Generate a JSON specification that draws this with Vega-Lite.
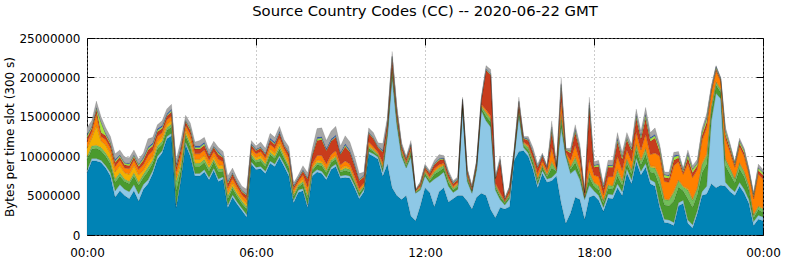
{
"$schema": "https://vega.github.io/schema/vega-lite/v6.json",
"width": 676, "height": 197,
"autosize": {"type": "none"},
"padding": {"left": 87, "top": 38, "right": 23, "bottom": 26},
"background": "white",
"config": {"view": {"stroke": "#000", "strokeWidth": 1}, "font": "DejaVu Sans"},
"title": {"text": "Source Country Codes (CC) -- 2020-06-22 GMT", "fontSize": 14.8, "fontWeight": "normal", "font": "DejaVu Sans", "color": "#000", "offset": 13},
"data": {"values": [
{"m":0,"A":7.9,"B":0.3,"C":1.3,"D":0.4,"E":1.1,"F":0.8,"G":0.5,"H":0.3,"I":0.2,"J":0.8},
{"m":10,"A":9.4,"B":0.3,"C":1.2,"D":0.4,"E":1.0,"F":0.7,"G":0.5,"H":0.2,"I":0.1,"J":0.7},
{"m":20,"A":9.4,"B":0.3,"C":1.3,"D":0.4,"E":2.5,"F":1.5,"G":0.5,"H":0.2,"I":0.1,"J":0.8},
{"m":30,"A":9.2,"B":0.3,"C":1.2,"D":0.4,"E":0.8,"F":0.6,"G":0.5,"H":1.3,"I":0.1,"J":0.6},
{"m":40,"A":8.5,"B":0.3,"C":1.2,"D":0.4,"E":1.0,"F":0.7,"G":0.5,"H":0.2,"I":0.1,"J":0.7},
{"m":50,"A":7.5,"B":0.4,"C":1.1,"D":0.4,"E":0.9,"F":0.7,"G":0.5,"H":0.2,"I":0.1,"J":0.7},
{"m":60,"A":4.8,"B":0.8,"C":1.1,"D":0.4,"E":0.9,"F":0.7,"G":0.5,"H":0.2,"I":0.2,"J":0.7},
{"m":70,"A":5.6,"B":0.8,"C":1.1,"D":0.4,"E":0.9,"F":0.7,"G":0.4,"H":0.2,"I":0.1,"J":0.6},
{"m":80,"A":5.0,"B":0.8,"C":1.0,"D":0.3,"E":0.8,"F":0.6,"G":0.4,"H":0.2,"I":0.1,"J":0.7},
{"m":90,"A":4.6,"B":0.9,"C":1.0,"D":0.3,"E":0.9,"F":0.7,"G":0.4,"H":0.2,"I":0.1,"J":0.7},
{"m":100,"A":5.6,"B":0.8,"C":1.1,"D":0.4,"E":0.9,"F":0.7,"G":0.4,"H":0.2,"I":0.1,"J":0.6},
{"m":110,"A":4.3,"B":0.9,"C":1.1,"D":0.4,"E":0.9,"F":0.7,"G":0.4,"H":0.2,"I":0.1,"J":0.6},
{"m":120,"A":5.8,"B":0.6,"C":0.9,"D":0.4,"E":0.5,"F":0.7,"G":0.6,"H":0.2,"I":0.2,"J":0.5},
{"m":130,"A":6.5,"B":0.5,"C":1.1,"D":0.5,"E":0.6,"F":0.9,"G":0.7,"H":0.2,"I":0.2,"J":1.0},
{"m":140,"A":7.8,"B":0.4,"C":0.9,"D":0.4,"E":0.5,"F":0.7,"G":0.6,"H":0.2,"I":0.2,"J":0.7},
{"m":150,"A":9.6,"B":0.4,"C":0.9,"D":0.4,"E":0.5,"F":0.7,"G":0.6,"H":0.2,"I":0.2,"J":0.5},
{"m":160,"A":10.4,"B":0.3,"C":0.8,"D":0.4,"E":0.5,"F":0.6,"G":0.5,"H":0.2,"I":0.2,"J":0.6},
{"m":170,"A":12.2,"B":0.3,"C":0.8,"D":0.3,"E":0.4,"F":0.6,"G":0.5,"H":0.1,"I":0.2,"J":0.6},
{"m":180,"A":12.6,"B":0.3,"C":0.8,"D":0.4,"E":0.4,"F":0.6,"G":0.5,"H":0.2,"I":0.2,"J":0.6},
{"m":190,"A":3.5,"B":0.3,"C":1.8,"D":1.2,"E":0.5,"F":0.8,"G":0.5,"H":0.2,"I":0.2,"J":0.6},
{"m":200,"A":7.0,"B":0.3,"C":1.0,"D":0.5,"E":0.6,"F":0.8,"G":0.7,"H":0.2,"I":0.2,"J":0.7},
{"m":210,"A":11.5,"B":0.3,"C":0.8,"D":0.3,"E":0.4,"F":0.6,"G":0.5,"H":0.1,"I":0.1,"J":0.6},
{"m":220,"A":10.0,"B":0.3,"C":0.9,"D":0.4,"E":0.5,"F":0.7,"G":0.5,"H":0.2,"I":0.1,"J":0.6},
{"m":230,"A":7.5,"B":0.3,"C":0.9,"D":0.4,"E":0.5,"F":0.7,"G":0.6,"H":0.2,"I":0.2,"J":0.5},
{"m":240,"A":7.5,"B":0.3,"C":0.9,"D":0.4,"E":0.5,"F":0.7,"G":0.6,"H":0.2,"I":0.2,"J":0.7},
{"m":250,"A":8.0,"B":0.3,"C":0.9,"D":0.4,"E":0.5,"F":0.7,"G":0.6,"H":0.2,"I":0.2,"J":0.6},
{"m":260,"A":7.0,"B":0.3,"C":0.8,"D":0.4,"E":0.4,"F":0.6,"G":0.5,"H":0.1,"I":0.1,"J":0.6},
{"m":270,"A":8.2,"B":0.3,"C":0.8,"D":0.3,"E":0.4,"F":0.6,"G":0.5,"H":0.1,"I":0.1,"J":0.6},
{"m":280,"A":6.8,"B":0.3,"C":0.9,"D":0.4,"E":0.5,"F":0.7,"G":0.6,"H":0.2,"I":0.2,"J":0.5},
{"m":290,"A":7.1,"B":0.3,"C":0.7,"D":0.3,"E":0.4,"F":0.5,"G":0.5,"H":0.1,"I":0.1,"J":0.6},
{"m":300,"A":3.5,"B":0.3,"C":0.8,"D":0.4,"E":0.4,"F":0.6,"G":0.5,"H":0.2,"I":0.2,"J":0.6},
{"m":310,"A":4.8,"B":0.3,"C":0.8,"D":0.3,"E":0.4,"F":0.6,"G":0.5,"H":0.1,"I":0.1,"J":0.6},
{"m":320,"A":3.9,"B":0.3,"C":0.7,"D":0.3,"E":0.4,"F":0.5,"G":0.4,"H":0.1,"I":0.1,"J":0.5},
{"m":330,"A":3.1,"B":0.3,"C":0.6,"D":0.3,"E":0.3,"F":0.5,"G":0.4,"H":0.1,"I":0.1,"J":0.5},
{"m":340,"A":2.3,"B":0.3,"C":0.7,"D":0.3,"E":0.4,"F":0.5,"G":0.5,"H":0.1,"I":0.1,"J":0.6},
{"m":350,"A":9.0,"B":0.3,"C":0.6,"D":0.3,"E":0.3,"F":0.5,"G":0.4,"H":0.1,"I":0.1,"J":0.4},
{"m":360,"A":8.3,"B":0.3,"C":0.6,"D":0.3,"E":0.3,"F":0.5,"G":0.4,"H":0.1,"I":0.1,"J":0.4},
{"m":370,"A":8.4,"B":0.3,"C":0.7,"D":0.3,"E":0.4,"F":0.5,"G":0.4,"H":0.1,"I":0.1,"J":0.6},
{"m":380,"A":7.8,"B":0.3,"C":0.6,"D":0.3,"E":0.3,"F":0.5,"G":0.4,"H":0.1,"I":0.1,"J":0.6},
{"m":390,"A":9.1,"B":0.3,"C":0.8,"D":0.3,"E":0.4,"F":0.6,"G":0.5,"H":0.1,"I":0.2,"J":0.6},
{"m":400,"A":8.7,"B":0.3,"C":0.7,"D":0.3,"E":0.4,"F":0.6,"G":0.5,"H":0.1,"I":0.2,"J":0.6},
{"m":410,"A":9.8,"B":0.3,"C":0.8,"D":0.4,"E":0.4,"F":0.6,"G":0.6,"H":0.1,"I":0.2,"J":0.6},
{"m":420,"A":8.7,"B":0.3,"C":0.7,"D":0.3,"E":0.4,"F":0.5,"G":0.4,"H":0.1,"I":0.1,"J":0.6},
{"m":430,"A":7.5,"B":0.3,"C":0.7,"D":0.3,"E":0.4,"F":0.6,"G":0.5,"H":0.1,"I":0.2,"J":0.6},
{"m":440,"A":4.1,"B":0.3,"C":0.5,"D":0.2,"E":0.3,"F":0.4,"G":0.3,"H":0.1,"I":0.1,"J":0.3},
{"m":450,"A":5.4,"B":0.3,"C":0.4,"D":0.2,"E":0.2,"F":0.3,"G":0.3,"H":0.1,"I":0.1,"J":0.3},
{"m":460,"A":5.6,"B":0.3,"C":0.6,"D":0.3,"E":0.3,"F":0.5,"G":0.5,"H":0.1,"I":0.1,"J":0.5},
{"m":470,"A":3.5,"B":0.3,"C":0.8,"D":0.4,"E":0.4,"F":0.7,"G":1.0,"H":0.1,"I":0.1,"J":0.6},
{"m":480,"A":7.5,"B":0.3,"C":0.4,"D":0.2,"E":0.2,"F":0.4,"G":1.1,"H":0.1,"I":0.1,"J":0.7},
{"m":490,"A":8.0,"B":0.3,"C":0.6,"D":0.3,"E":0.3,"F":0.6,"G":1.9,"H":0.2,"I":0.2,"J":1.1},
{"m":500,"A":7.8,"B":0.3,"C":0.7,"D":0.3,"E":0.3,"F":0.7,"G":2.0,"H":0.2,"I":0.2,"J":1.1},
{"m":510,"A":7.0,"B":0.3,"C":0.6,"D":0.3,"E":0.2,"F":0.6,"G":1.7,"H":0.1,"I":0.2,"J":1.0},
{"m":520,"A":8.3,"B":0.3,"C":0.6,"D":0.3,"E":0.2,"F":0.5,"G":1.7,"H":0.1,"I":0.2,"J":1.0},
{"m":530,"A":8.7,"B":0.3,"C":0.6,"D":0.3,"E":0.2,"F":0.6,"G":1.7,"H":0.1,"I":0.2,"J":1.1},
{"m":540,"A":7.2,"B":0.3,"C":0.5,"D":0.2,"E":0.2,"F":0.5,"G":1.3,"H":0.1,"I":0.2,"J":0.8},
{"m":550,"A":7.3,"B":0.3,"C":0.6,"D":0.3,"E":0.3,"F":0.6,"G":1.8,"H":0.2,"I":0.2,"J":1.0},
{"m":560,"A":7.2,"B":0.3,"C":0.5,"D":0.3,"E":0.2,"F":0.5,"G":1.5,"H":0.1,"I":0.2,"J":1.0},
{"m":570,"A":6.0,"B":0.3,"C":0.4,"D":0.2,"E":0.2,"F":0.4,"G":1.3,"H":0.1,"I":0.2,"J":0.9},
{"m":580,"A":4.6,"B":0.3,"C":0.4,"D":0.2,"E":0.1,"F":0.3,"G":1.0,"H":0.1,"I":0.1,"J":0.7},
{"m":590,"A":5.5,"B":0.3,"C":0.3,"D":0.1,"E":0.1,"F":0.3,"G":0.8,"H":0.1,"I":0.1,"J":0.4},
{"m":600,"A":10.3,"B":0.3,"C":0.4,"D":0.2,"E":0.2,"F":0.4,"G":1.1,"H":0.1,"I":0.1,"J":0.5},
{"m":610,"A":10.0,"B":0.3,"C":0.3,"D":0.2,"E":0.1,"F":0.3,"G":1.0,"H":0.1,"I":0.1,"J":0.6},
{"m":620,"A":9.6,"B":0.3,"C":0.2,"D":0.1,"E":0.1,"F":0.2,"G":0.6,"H":0.1,"I":0.1,"J":0.4},
{"m":630,"A":7.5,"B":0.5,"C":0.4,"D":0.2,"E":0.2,"F":0.4,"G":1.3,"H":0.1,"I":0.2,"J":0.8},
{"m":640,"A":9.0,"B":3.5,"C":0.5,"D":0.3,"E":0.1,"F":0.3,"G":0.6,"H":0.1,"I":0.1,"J":0.5},
{"m":650,"A":6.0,"B":14.0,"C":0.7,"D":0.4,"E":0.1,"F":0.3,"G":0.9,"H":0.2,"I":0.1,"J":0.6},
{"m":660,"A":5.0,"B":9.0,"C":0.5,"D":0.3,"E":0.1,"F":0.3,"G":0.6,"H":0.1,"I":0.1,"J":0.5},
{"m":670,"A":4.5,"B":5.5,"C":0.4,"D":0.2,"E":0.1,"F":0.2,"G":0.4,"H":0.1,"I":0.1,"J":0.3},
{"m":680,"A":5.0,"B":3.5,"C":0.3,"D":0.2,"E":0.1,"F":0.2,"G":0.3,"H":0.1,"I":0.1,"J":0.2},
{"m":690,"A":2.4,"B":7.5,"C":0.4,"D":0.3,"E":0.1,"F":0.2,"G":0.5,"H":0.1,"I":0.1,"J":0.4},
{"m":700,"A":1.8,"B":3.5,"C":0.1,"D":0.1,"E":0.0,"F":0.1,"G":0.1,"H":0.0,"I":0.0,"J":0.1},
{"m":710,"A":3.7,"B":2.0,"C":0.2,"D":0.1,"E":0.1,"F":0.1,"G":0.3,"H":0.1,"I":0.0,"J":0.2},
{"m":720,"A":6.0,"B":1.5,"C":0.3,"D":0.2,"E":0.1,"F":0.2,"G":0.3,"H":0.1,"I":0.1,"J":0.2},
{"m":730,"A":5.4,"B":1.2,"C":0.3,"D":0.2,"E":0.1,"F":0.2,"G":0.4,"H":0.1,"I":0.1,"J":0.2},
{"m":740,"A":3.6,"B":3.5,"C":0.6,"D":0.3,"E":0.1,"F":0.3,"G":0.5,"H":0.1,"I":0.1,"J":0.4},
{"m":750,"A":5.5,"B":2.0,"C":0.6,"D":0.4,"E":0.1,"F":0.3,"G":0.6,"H":0.1,"I":0.1,"J":0.5},
{"m":760,"A":6.0,"B":2.0,"C":0.5,"D":0.3,"E":0.1,"F":0.2,"G":0.5,"H":0.1,"I":0.1,"J":0.3},
{"m":770,"A":4.2,"B":2.0,"C":0.5,"D":0.3,"E":0.1,"F":0.2,"G":0.4,"H":0.1,"I":0.1,"J":0.3},
{"m":780,"A":4.6,"B":0.8,"C":0.3,"D":0.2,"E":0.1,"F":0.2,"G":0.3,"H":0.1,"I":0.1,"J":0.2},
{"m":790,"A":5.0,"B":0.8,"C":0.4,"D":0.2,"E":0.1,"F":0.2,"G":0.3,"H":0.1,"I":0.1,"J":0.2},
{"m":800,"A":5.0,"B":11.0,"C":0.3,"D":0.2,"E":0.1,"F":0.2,"G":0.3,"H":0.1,"I":0.1,"J":0.2},
{"m":810,"A":4.3,"B":2.5,"C":0.4,"D":0.2,"E":0.1,"F":0.2,"G":0.4,"H":0.1,"I":0.1,"J":0.2},
{"m":820,"A":3.3,"B":2.0,"C":0.2,"D":0.1,"E":0.0,"F":0.1,"G":0.3,"H":0.1,"I":0.0,"J":0.2},
{"m":830,"A":4.8,"B":3.5,"C":0.3,"D":0.1,"E":0.1,"F":0.1,"G":0.3,"H":0.1,"I":0.1,"J":0.1},
{"m":840,"A":5.3,"B":10.5,"C":0.3,"D":0.2,"E":0.1,"F":0.2,"G":0.5,"H":0.1,"I":0.1,"J":0.2},
{"m":850,"A":5.0,"B":9.5,"C":0.6,"D":0.4,"E":0.1,"F":0.3,"G":5.0,"H":0.1,"I":0.1,"J":0.4},
{"m":860,"A":3.2,"B":10.5,"C":0.6,"D":0.4,"E":0.1,"F":0.3,"G":5.2,"H":0.1,"I":0.1,"J":0.5},
{"m":870,"A":2.2,"B":3.5,"C":0.4,"D":0.2,"E":0.1,"F":0.2,"G":0.5,"H":0.1,"I":0.1,"J":0.2},
{"m":880,"A":3.5,"B":1.0,"C":0.4,"D":0.2,"E":0.1,"F":0.2,"G":4.0,"H":0.1,"I":0.1,"J":0.4},
{"m":890,"A":3.3,"B":0.5,"C":0.3,"D":0.1,"E":0.0,"F":0.1,"G":0.2,"H":0.1,"I":0.0,"J":0.2},
{"m":900,"A":3.6,"B":1.0,"C":0.3,"D":0.2,"E":0.1,"F":0.2,"G":0.5,"H":0.1,"I":0.1,"J":0.1},
{"m":910,"A":9.5,"B":0.5,"C":0.2,"D":0.1,"E":0.0,"F":0.1,"G":0.3,"H":0.1,"I":0.0,"J":0.2},
{"m":920,"A":10.6,"B":4.5,"C":0.5,"D":0.3,"E":0.1,"F":0.2,"G":0.6,"H":0.1,"I":0.1,"J":0.5},
{"m":930,"A":10.7,"B":0.4,"C":0.3,"D":0.2,"E":0.1,"F":0.1,"G":0.4,"H":0.1,"I":0.1,"J":0.1},
{"m":940,"A":10.0,"B":0.4,"C":0.4,"D":0.3,"E":0.1,"F":0.2,"G":0.6,"H":0.1,"I":0.1,"J":0.3},
{"m":950,"A":8.3,"B":0.4,"C":0.5,"D":0.3,"E":0.1,"F":0.2,"G":0.6,"H":0.1,"I":0.1,"J":0.5},
{"m":960,"A":6.0,"B":0.4,"C":0.4,"D":0.3,"E":0.1,"F":0.6,"G":0.7,"H":0.1,"I":0.1,"J":0.3},
{"m":970,"A":7.8,"B":0.4,"C":0.4,"D":0.2,"E":0.1,"F":0.5,"G":0.6,"H":0.1,"I":0.1,"J":0.2},
{"m":980,"A":6.7,"B":0.4,"C":0.3,"D":0.2,"E":0.1,"F":0.4,"G":0.4,"H":0.1,"I":0.1,"J":0.1},
{"m":990,"A":6.9,"B":0.4,"C":1.2,"D":0.7,"E":0.2,"F":1.7,"G":2.0,"H":0.4,"I":0.2,"J":0.8},
{"m":1000,"A":7.5,"B":0.4,"C":0.2,"D":0.1,"E":0.0,"F":0.2,"G":0.2,"H":0.1,"I":0.0,"J":0.1},
{"m":1010,"A":4.1,"B":9.5,"C":1.0,"D":0.6,"E":0.2,"F":1.5,"G":1.8,"H":0.3,"I":0.2,"J":0.8},
{"m":1020,"A":1.5,"B":8.5,"C":0.2,"D":0.1,"E":0.0,"F":0.2,"G":0.3,"H":0.1,"I":0.0,"J":0.1},
{"m":1030,"A":2.8,"B":5.0,"C":0.5,"D":0.3,"E":0.1,"F":0.8,"G":0.9,"H":0.2,"I":0.1,"J":0.3},
{"m":1040,"A":4.8,"B":3.5,"C":0.9,"D":0.6,"E":0.2,"F":1.4,"G":1.6,"H":0.3,"I":0.2,"J":0.5},
{"m":1050,"A":4.5,"B":2.5,"C":0.7,"D":0.5,"E":0.1,"F":1.1,"G":1.3,"H":0.2,"I":0.1,"J":0.5},
{"m":1060,"A":2.0,"B":2.5,"C":0.2,"D":0.1,"E":0.0,"F":0.2,"G":0.3,"H":0.1,"I":0.0,"J":0.1},
{"m":1070,"A":4.8,"B":1.5,"C":1.0,"D":0.6,"E":0.2,"F":1.5,"G":6.5,"H":0.4,"I":0.3,"J":0.7},
{"m":1080,"A":5.0,"B":0.6,"C":0.6,"D":0.4,"E":0.1,"F":0.9,"G":1.0,"H":0.2,"I":0.1,"J":0.4},
{"m":1090,"A":4.4,"B":0.6,"C":0.7,"D":0.5,"E":0.1,"F":1.1,"G":1.3,"H":0.2,"I":0.1,"J":0.5},
{"m":1100,"A":3.0,"B":0.5,"C":0.5,"D":0.3,"E":0.1,"F":0.7,"G":0.8,"H":0.2,"I":0.1,"J":0.3},
{"m":1110,"A":4.7,"B":0.5,"C":0.7,"D":0.4,"E":0.1,"F":1.0,"G":1.2,"H":0.2,"I":0.1,"J":0.6},
{"m":1120,"A":4.6,"B":0.5,"C":0.7,"D":0.4,"E":0.1,"F":1.1,"G":1.2,"H":0.2,"I":0.1,"J":0.6},
{"m":1130,"A":6.0,"B":0.5,"C":1.0,"D":0.7,"E":0.2,"F":1.6,"G":1.8,"H":0.3,"I":0.2,"J":0.7},
{"m":1140,"A":5.0,"B":0.5,"C":0.8,"D":0.5,"E":0.2,"F":1.2,"G":1.4,"H":0.3,"I":0.1,"J":0.5},
{"m":1150,"A":7.9,"B":0.5,"C":0.7,"D":0.5,"E":0.1,"F":1.1,"G":1.3,"H":0.2,"I":0.1,"J":0.6},
{"m":1160,"A":6.5,"B":0.5,"C":0.7,"D":0.5,"E":0.1,"F":1.1,"G":1.3,"H":0.2,"I":0.1,"J":0.5},
{"m":1170,"A":9.3,"B":0.5,"C":1.0,"D":0.6,"E":0.2,"F":1.5,"G":1.7,"H":0.3,"I":0.2,"J":0.7},
{"m":1180,"A":7.6,"B":0.5,"C":0.8,"D":0.5,"E":0.2,"F":1.2,"G":1.4,"H":0.3,"I":0.2,"J":0.5},
{"m":1190,"A":8.6,"B":0.5,"C":1.1,"D":0.7,"E":0.2,"F":1.7,"G":2.0,"H":0.4,"I":0.2,"J":0.8},
{"m":1200,"A":6.5,"B":0.5,"C":1.0,"D":0.6,"E":0.2,"F":1.4,"G":1.7,"H":0.3,"I":0.2,"J":0.6},
{"m":1210,"A":6.2,"B":0.5,"C":1.1,"D":0.7,"E":0.2,"F":1.7,"G":1.9,"H":0.3,"I":0.2,"J":0.8},
{"m":1220,"A":3.5,"B":0.4,"C":2.3,"D":0.9,"E":0.2,"F":2.7,"G":0.6,"H":0.4,"I":0.1,"J":0.4},
{"m":1230,"A":1.6,"B":0.4,"C":1.8,"D":0.7,"E":0.1,"F":2.2,"G":0.5,"H":0.3,"I":0.1,"J":0.3},
{"m":1240,"A":1.5,"B":0.4,"C":1.8,"D":0.7,"E":0.1,"F":2.2,"G":0.5,"H":0.3,"I":0.1,"J":0.4},
{"m":1250,"A":1.2,"B":0.4,"C":2.7,"D":1.1,"E":0.2,"F":3.2,"G":0.7,"H":0.4,"I":0.2,"J":0.4},
{"m":1260,"A":3.7,"B":0.4,"C":2.0,"D":0.8,"E":0.1,"F":2.3,"G":0.5,"H":0.3,"I":0.1,"J":0.4},
{"m":1270,"A":4.0,"B":0.4,"C":1.2,"D":0.5,"E":0.1,"F":1.5,"G":0.3,"H":0.2,"I":0.1,"J":0.2},
{"m":1280,"A":1.5,"B":0.4,"C":2.7,"D":1.1,"E":0.2,"F":3.2,"G":0.7,"H":0.4,"I":0.2,"J":0.4},
{"m":1290,"A":0.9,"B":0.4,"C":2.2,"D":0.9,"E":0.2,"F":2.7,"G":0.6,"H":0.4,"I":0.1,"J":0.4},
{"m":1300,"A":2.7,"B":0.4,"C":2.0,"D":0.8,"E":0.1,"F":2.3,"G":0.5,"H":0.3,"I":0.1,"J":0.4},
{"m":1310,"A":5.0,"B":0.5,"C":2.4,"D":1.0,"E":0.2,"F":2.9,"G":0.6,"H":0.4,"I":0.1,"J":0.4},
{"m":1320,"A":5.2,"B":1.0,"C":2.8,"D":1.1,"E":0.2,"F":3.3,"G":0.7,"H":0.5,"I":0.2,"J":0.4},
{"m":1330,"A":6.5,"B":8.0,"C":1.3,"D":0.5,"E":0.1,"F":1.6,"G":0.4,"H":0.2,"I":0.1,"J":0.3},
{"m":1340,"A":6.0,"B":12.0,"C":1.0,"D":0.4,"E":0.1,"F":1.3,"G":0.3,"H":0.2,"I":0.1,"J":0.1},
{"m":1350,"A":6.3,"B":11.0,"C":0.8,"D":0.3,"E":0.1,"F":1.0,"G":0.2,"H":0.1,"I":0.1,"J":0.1},
{"m":1360,"A":6.2,"B":0.5,"C":2.1,"D":0.8,"E":0.1,"F":2.5,"G":0.6,"H":0.4,"I":0.1,"J":0.4},
{"m":1370,"A":5.5,"B":0.5,"C":1.7,"D":0.7,"E":0.1,"F":2.0,"G":0.4,"H":0.3,"I":0.1,"J":0.3},
{"m":1380,"A":5.0,"B":0.5,"C":1.1,"D":0.5,"E":0.1,"F":1.4,"G":0.3,"H":0.2,"I":0.1,"J":0.1},
{"m":1390,"A":6.2,"B":0.5,"C":1.7,"D":0.7,"E":0.1,"F":2.0,"G":0.4,"H":0.3,"I":0.1,"J":0.3},
{"m":1400,"A":5.3,"B":0.5,"C":1.6,"D":0.6,"E":0.1,"F":1.9,"G":0.4,"H":0.3,"I":0.1,"J":0.2},
{"m":1410,"A":4.0,"B":0.5,"C":1.2,"D":0.5,"E":0.1,"F":1.4,"G":0.3,"H":0.2,"I":0.1,"J":0.2},
{"m":1420,"A":1.2,"B":0.5,"C":0.5,"D":0.3,"E":0.1,"F":2.0,"G":0.3,"H":0.2,"I":0.1,"J":0.2},
{"m":1430,"A":2.0,"B":0.5,"C":0.7,"D":0.4,"E":0.1,"F":4.0,"G":0.5,"H":0.3,"I":0.1,"J":0.4},
{"m":1440,"A":1.8,"B":0.5,"C":0.6,"D":0.4,"E":0.1,"F":3.7,"G":0.5,"H":0.3,"I":0.1,"J":0.3}
]},
"transform": [{"fold": ["A","B","C","D","E","F","G","H","I","J"], "as": ["s","v"]}],
"layer": [
{"mark": {"type": "area", "interpolate": "linear", "stroke": "#000", "strokeWidth": 0.4, "strokeOpacity": 0.25},
 "encoding": {
  "x": {"field": "m", "type": "quantitative", "scale": {"domain": [0,1440], "nice": false},
   "axis": {"orient": "bottom", "values": [0,360,720,1080,1440], "labelExpr": "(floor(datum.value/60)%24 < 10 ? '0' : '') + (floor(datum.value/60)%24) + ':00'", "title": null, "grid": true, "gridDash": [1,3], "gridColor": "#999", "domain": false, "tickSize": -7, "tickColor": "#000", "labelFont": "DejaVu Sans", "labelFontSize": 12, "labelColor": "#000", "labelPadding": 19, "labelFlush": false}},
  "y": {"field": "v", "type": "quantitative", "stack": "zero", "scale": {"domain": [0,25], "nice": false},
   "axis": {"orient": "left", "values": [0,5,10,15,20,25], "labelExpr": "format(datum.value*1000000, 'd')", "title": "Bytes per time slot (300 s)", "titleFont": "DejaVu Sans", "titleFontSize": 12, "titleFontWeight": "normal", "titleColor": "#000", "titlePadding": 2, "grid": true, "gridDash": [1,3], "gridColor": "#999", "domain": false, "tickSize": -7, "tickColor": "#000", "labelFont": "DejaVu Sans", "labelFontSize": 12, "labelColor": "#000", "labelPadding": 14, "labelFlush": false}},
  "color": {"field": "s", "type": "nominal", "scale": {"domain": ["A","B","C","D","E","F","G","H","I","J"], "range": ["#0083b5","#8ec8e6","#4a9a2e","#72bf5a","#f4b000","#ff8000","#c83c1c","#a8e43c","#3a62b8","#a6a6a6"]}, "legend": null},
  "order": {"field": "s", "sort": "ascending"}
 }},
{"mark": {"type": "point", "opacity": 0},
 "encoding": {
  "x": {"field": "m", "type": "quantitative", "scale": {"domain": [0,1440], "nice": false},
   "axis": {"orient": "top", "values": [0,360,720,1080,1440], "labels": false, "title": null, "grid": false, "domain": false, "tickSize": -7, "tickColor": "#000"}},
  "y": {"field": "v", "type": "quantitative", "scale": {"domain": [0,25], "nice": false},
   "axis": {"orient": "right", "values": [0,5,10,15,20,25], "labels": false, "title": null, "grid": false, "domain": false, "tickSize": -7, "tickColor": "#000"}}
 }}
],
"resolve": {"axis": {"x": "independent", "y": "independent"}}
}
